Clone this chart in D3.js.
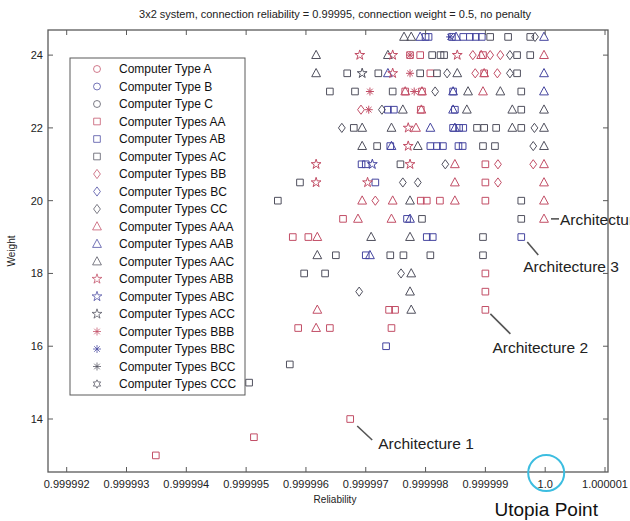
<!DOCTYPE html>
<html><head><meta charset="utf-8">
<script src="https://cdn.jsdelivr.net/npm/d3@7"></script>
<style>body{margin:0;background:#fff}</style>
</head><body>
<svg id="c" width="630" height="521"></svg>
<script>
const title = "3x2 system, connection reliability = 0.99995, connection weight = 0.5, no penalty";
const xLabel = "Reliability";
const yLabel = "Weight";
const xTicks = [0.999992, 0.999993, 0.999994, 0.999995, 0.999996, 0.999997, 0.999998, 0.999999, 1.0, 1.000001];
const xTickLabels = ["0.999992","0.999993","0.999994","0.999995","0.999996","0.999997","0.999998","0.999999","1.0","1.000001"];
const yTicks = [14, 16, 18, 20, 22, 24];
const yTickLabels = ["14","16","18","20","22","24"];

const seriesNames = ["Computer Type A","Computer Type B","Computer Type C","Computer Types AA","Computer Types AB","Computer Types AC","Computer Types BB","Computer Types BC","Computer Types CC","Computer Types AAA","Computer Types AAB","Computer Types AAC","Computer Types ABB","Computer Types ABC","Computer Types ACC","Computer Types BBB","Computer Types BBC","Computer Types BCC","Computer Types CCC"];
const seriesMarkers = ["circle","circle","circle","square","square","square","diamond","diamond","diamond","triangle","triangle","triangle","star","star","star","asterisk","asterisk","asterisk","hexagram"];
const seriesColorKeys = ["r","b","k","r","b","k","r","b","k","r","b","k","r","b","k","r","b","k","k"];

// [reliability, weight]
const A = [];
const B = [];
const C = [];
const AA = [[0.99999349,13],[0.99999513,13.5],[0.99999674,14],[0.99999587,16.5],[0.99999640,16.5],[0.99999743,16.5],[0.99999739,17],[0.99999749,17],[0.99999900,17],[0.99999900,17.5],[0.99999900,18],[0.99999578,19],[0.99999604,19],[0.99999662,19.5],[0.99999792,20],[0.99999802,20],[0.99999824,20],[0.99999900,20],[0.99999900,20.5],[0.99999900,21],[0.99999792,22.5],[0.99999766,23],[0.99999794,23],[0.99999808,23.5],[0.99999898,23.5],[0.99999774,24],[0.99999791,24],[0.99999896,24]];
const AB = [[0.99999734,16],[0.99999700,18.5],[0.99999802,19],[0.99999812,19],[0.99999960,19],[0.99999769,19.5],[0.99999716,20.5],[0.99999693,21],[0.99999700,21],[0.99999741,21.5],[0.99999808,21.5],[0.99999819,21.5],[0.99999829,21.5],[0.99999855,21.5],[0.99999862,21.5],[0.99999846,22],[0.99999856,22],[0.99999863,22],[0.99999737,22.5],[0.99999747,22.5],[0.99999849,22.5],[0.99999846,23],[0.99999800,24.5],[0.99999805,24.5],[0.99999844,24.5],[0.99999863,24.5],[0.99999874,24.5],[0.99999884,24.5],[0.99999894,24.5]];
const AC = [[0.99999505,15],[0.99999573,15.5],[0.99999597,18],[0.99999632,18],[0.99999650,18.5],[0.99999741,18.5],[0.99999763,18.5],[0.99999808,18.5],[0.99999896,18.5],[0.99999896,19],[0.99999794,19.5],[0.99999960,19.5],[0.99999553,20],[0.99999960,20],[0.99999590,20.5],[0.99999758,21],[0.99999719,21.5],[0.99999896,21.5],[0.99999916,21.5],[0.99999680,22],[0.99999886,22],[0.99999898,22],[0.99999918,22],[0.99999960,22],[0.99999960,22.5],[0.99999640,23],[0.99999682,23],[0.99999745,23],[0.99999960,23],[0.99999669,23.5],[0.99999721,23.5],[0.99999791,23.5],[0.99999819,23.5],[0.99999953,23.5],[0.99999811,24],[0.99999825,24],[0.99999831,24],[0.99999953,24],[0.99999975,24],[0.99999908,24.5],[0.99999938,24.5],[0.99999975,24.5]];
const BB = [[0.99999716,20],[0.99999921,20.5],[0.99999921,21],[0.99999980,21],[0.99999692,22.5],[0.99999883,23.5],[0.99999920,23.5],[0.99999879,24],[0.99999908,24],[0.99999925,24]];
const BC = [];
const CC = [[0.99999689,17.5],[0.99999759,18],[0.99999762,20.5],[0.99999787,20.5],[0.99999833,21],[0.99999980,21.5],[0.99999660,22],[0.99999982,22],[0.99999727,22.5],[0.99999816,23],[0.99999836,23.5],[0.99999941,23.5],[0.99999941,24],[0.99999983,24.5]];
const AAA = [[0.99999617,16.5],[0.99999619,17],[0.99999619,19],[0.99999687,19.5],[0.99999743,19.5],[0.99999998,19.5],[0.99999694,20],[0.99999745,20],[0.99999849,20],[0.99999998,20],[0.99999849,20.5],[0.99999998,20.5],[0.99999849,21],[0.99999998,21],[0.99999784,22],[0.99999793,22.5],[0.99999766,23],[0.99999794,23],[0.99999896,23],[0.99999898,23.5],[0.99999893,24],[0.99999998,24]];
const AAB = [[0.99999707,18.5],[0.99999774,19.5],[0.99999743,21.5],[0.99999808,22],[0.99999849,22],[0.99999846,22.5],[0.99999846,23],[0.99999998,23],[0.99999737,23.5],[0.99999998,23.5],[0.99999791,24.5],[0.99999851,24.5],[0.99999998,24.5]];
const AAC = [[0.99999776,17],[0.99999774,17.5],[0.99999776,18],[0.99999619,18.5],[0.99999709,19],[0.99999774,19],[0.99999774,20],[0.99999694,21.5],[0.99999787,21.5],[0.99999998,21.5],[0.99999694,22],[0.99999743,22],[0.99999945,22],[0.99999998,22],[0.99999762,22.5],[0.99999869,22.5],[0.99999945,22.5],[0.99999998,22.5],[0.99999871,23],[0.99999925,23],[0.99999617,23.5],[0.99999853,23.5],[0.99999617,24],[0.99999737,24],[0.99999764,24.5],[0.99999776,24.5]];
const ABB = [[0.99999617,20.5],[0.99999703,20.5],[0.99999617,21],[0.99999774,21],[0.99999771,21.5],[0.99999771,22],[0.99999745,23.5],[0.99999690,24],[0.99999745,24],[0.99999853,24]];
const ABC = [[0.99999711,21]];
const ACC = [[0.99999694,23.5]];
const BBB = [[0.99999705,22.5],[0.99999707,23],[0.99999781,23],[0.99999774,23.5],[0.99999774,24]];
const BBC = [[0.99999841,24.5]];
const BCC = [];
const CCC = [];
const seriesData = [A,B,C,AA,AB,AC,BB,BC,CC,AAA,AAB,AAC,ABB,ABC,ACC,BBB,BBC,BCC,CCC];

// annotated architectures: [reliability, weight, label]
const archPoints = [[0.99999674,14,"Architecture 1"],[0.99999900,17,"Architecture 2"],[0.99999960,19,"Architecture 3"],[0.99999998,19.5,"Architecture 4"]];
const utopia = [1.0, 12.544, "Utopia Point"];

const colorMap = {r:"#c24e66", b:"#45459f", k:"#50505e"};

const svg = d3.select("#c");
const W = 630, H = 521;
const m = {l:48, r:608, t:30, b:472};
const x = d3.scaleLinear().domain([0.9999916875, 1.00000105]).range([m.l, m.r]);
const y = d3.scaleLinear().domain([12.544, 24.69]).range([m.b, m.t]);

function markerPath(type){
  switch(type){
    case "circle": return d3.symbol(d3.symbolCircle, 38)();
    case "square": return d3.symbol(d3.symbolSquare, 44)();
    case "diamond": return "M0,-4.6L3.4,0L0,4.6L-3.4,0Z";
    case "triangle": return "M0,-4.8L4.4,3.4L-4.4,3.4Z";
    case "star": return d3.symbol(d3.symbolStar, 30)();
    case "asterisk": return "M-4,0L4,0M0,-4L0,4M-2.8,-2.8L2.8,2.8M-2.8,2.8L2.8,-2.8";
    case "hexagram": {
      let p=[];
      for(let i=0;i<12;i++){const a=Math.PI/6*i - Math.PI/2; const r = i%2?2.3:4.2; p.push([r*Math.cos(a), r*Math.sin(a)]);}
      return "M"+p.map(d=>d[0].toFixed(2)+","+d[1].toFixed(2)).join("L")+"Z";
    }
  }
}

svg.append("rect").attr("x",0).attr("y",0).attr("width",W).attr("height",H).attr("fill","#fff");

// points
const pts = svg.append("g");
seriesData.forEach((data,i)=>{
  pts.selectAll(null).data(data).enter().append("path")
    .attr("d", markerPath(seriesMarkers[i]))
    .attr("transform", d=>`translate(${x(d[0])},${y(d[1])})`)
    .attr("fill","none")
    .attr("stroke", colorMap[seriesColorKeys[i]])
    .attr("stroke-width",1);
});

// axes box
const axColor = "#5a5a5a";
svg.append("rect").attr("x",m.l).attr("y",m.t).attr("width",m.r-m.l).attr("height",m.b-m.t)
  .attr("fill","none").attr("stroke",axColor).attr("stroke-width",1.3);

// ticks (inside, all four sides)
const tk = svg.append("g").attr("stroke",axColor).attr("stroke-width",1);
xTicks.forEach(t=>{
  tk.append("line").attr("x1",x(t)).attr("x2",x(t)).attr("y1",m.b).attr("y2",m.b-5);
  tk.append("line").attr("x1",x(t)).attr("x2",x(t)).attr("y1",m.t).attr("y2",m.t+5);
});
yTicks.forEach(t=>{
  tk.append("line").attr("x1",m.l).attr("x2",m.l+5).attr("y1",y(t)).attr("y2",y(t));
  tk.append("line").attr("x1",m.r).attr("x2",m.r-5).attr("y1",y(t)).attr("y2",y(t));
});
const font = "'Liberation Sans', Arial, Helvetica, sans-serif";
svg.append("g").selectAll("text").data(xTicks).enter().append("text")
  .attr("x",d=>x(d)).attr("y",m.b+16).attr("text-anchor","middle")
  .attr("font-family",font).attr("font-size",11).attr("fill","#222")
  .text((d,i)=>xTickLabels[i]);
svg.append("g").selectAll("text").data(yTicks).enter().append("text")
  .attr("x",m.l-5).attr("y",d=>y(d)+4).attr("text-anchor","end")
  .attr("font-family",font).attr("font-size",11).attr("fill","#222")
  .text((d,i)=>yTickLabels[i]);

svg.append("text").attr("x",335).attr("y",18).attr("text-anchor","middle")
  .attr("font-family",font).attr("font-size",11).attr("fill","#222").text(title);
svg.append("text").attr("x",(m.l+m.r)/2+7).attr("y",503).attr("text-anchor","middle")
  .attr("font-family",font).attr("font-size",10).attr("fill","#222").text(xLabel);
svg.append("text").attr("transform",`translate(15,${(m.t+m.b)/2}) rotate(-90)`).attr("text-anchor","middle")
  .attr("font-family",font).attr("font-size",10).attr("fill","#222").text(yLabel);

// legend
const lg = svg.append("g");
lg.append("rect").attr("x",70).attr("y",58).attr("width",175).attr("height",337)
  .attr("fill","#fff").attr("stroke",axColor).attr("stroke-width",1);
seriesNames.forEach((n,i)=>{
  const yy = 69 + i*17.5;
  lg.append("path").attr("d",markerPath(seriesMarkers[i])).attr("transform",`translate(97,${yy})`)
    .attr("fill","none").attr("stroke",colorMap[seriesColorKeys[i]]).attr("stroke-width",1).attr("opacity",0.75);
  lg.append("text").attr("x",119).attr("y",yy+4).attr("font-family",font).attr("font-size",12)
    .attr("fill","#111").text(n);
});

// annotations
const an = svg.append("g");
const annFont = "'Liberation Sans', Arial, sans-serif";
const annOffsets = [[[7,7],[22,21],[28,30]],[[5,4],[25,24],[7,43]],[[6,5],[17,18],[2,35]],[[7,0],[15,0],[16,6]]];
archPoints.forEach((p,i)=>{
  const px = x(p[0]), py = y(p[1]);
  const o = annOffsets[i];
  an.append("line").attr("x1",px+o[0][0]).attr("y1",py+o[0][1]).attr("x2",px+o[1][0]).attr("y2",py+o[1][1])
    .attr("stroke","#555").attr("stroke-width",1.6);
  an.append("text").attr("x",px+o[2][0]).attr("y",py+o[2][1]).attr("font-family",annFont)
    .attr("font-size",15.5).attr("fill","#222").text(p[2]);
});
an.append("circle").attr("cx",x(utopia[0])+1).attr("cy",y(utopia[1])+1).attr("r",18)
  .attr("fill","none").attr("stroke","#3cbde0").attr("stroke-width",2);
an.append("text").attr("x",x(utopia[0])+1).attr("y",516).attr("text-anchor","middle")
  .attr("font-family",annFont).attr("font-size",19).attr("fill","#111").text(utopia[2]);
</script>
</body></html>
